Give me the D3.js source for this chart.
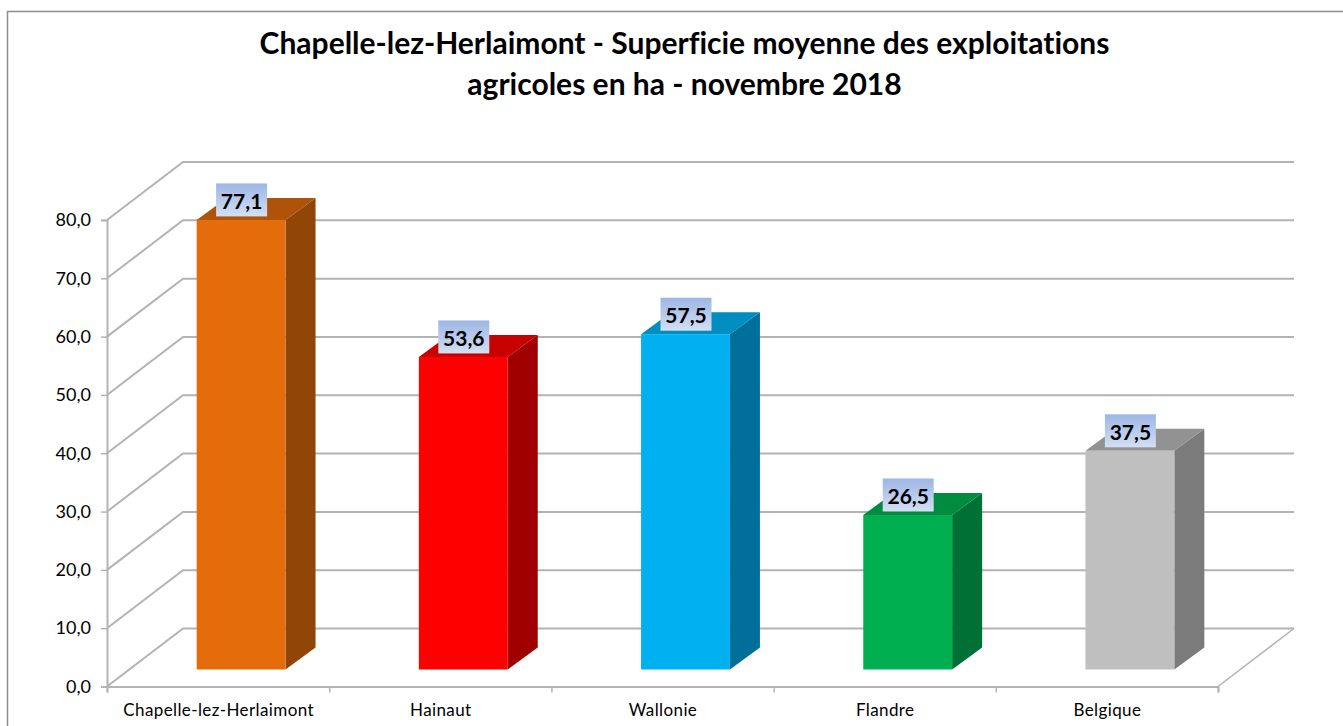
<!DOCTYPE html>
<html>
<head>
<meta charset="utf-8">
<script src="https://cdn.jsdelivr.net/npm/d3@7"></script>
<style>
html, body { margin: 0; padding: 0; background: #fff; overflow: hidden; }
text { font-family: Lato, "Open Sans", sans-serif; fill: #000; font-variant-ligatures: none; }
</style>
</head>
<body>
<div id="chart"></div>
<script>
// Data
const categories = ["Chapelle-lez-Herlaimont", "Hainaut", "Wallonie", "Flandre", "Belgique"];
const values = [77.1, 53.6, 57.5, 26.5, 37.5];
const yTicks = [0, 10, 20, 30, 40, 50, 60, 70, 80];
const titleLines = [
    "Chapelle-lez-Herlaimont - Superficie moyenne des exploitations",
    "agricoles en ha - novembre 2018"
];

const frontColors = ["#E46C0A", "#FF0000", "#00B0F0", "#00B050", "#BFBFBF"];
const topColors = ["#AF5308", "#C80000", "#008DC0", "#008C40", "#929292"];
const sideColors = ["#914507", "#A00000", "#00709A", "#007034", "#7B7B7B"];

const svgWidth = 1343, svgHeight = 726;
const gridColor = "#b3b3b3";

// Chart depth: how far the back wall sits from the front axis
const depth = { dx: 76, dy: -58 };
// Bars stand a bit inside the floor
const barInset = { dx: 23, dy: -17 };
const barDepth = { dx: 30, dy: -22 };

const svg = d3.select("#chart")
    .append("svg")
    .attr("width", svgWidth)
    .attr("height", svgHeight)
    .style("display", "block");

const defs = svg.append("defs");
const labelFill = defs.append("linearGradient")
    .attr("id", "labelFill")
    .attr("x1", 0).attr("y1", 0).attr("x2", 0).attr("y2", 1);
labelFill.append("stop").attr("offset", "0%").attr("stop-color", "#9db6e4");
labelFill.append("stop").attr("offset", "100%").attr("stop-color", "#d3dff3");

const x = d3.scaleBand()
    .domain(categories)
    .range([107, 1218])
    .paddingInner(0.6)
    .paddingOuter(0.3);

const y = d3.scaleLinear()
    .domain([0, 80])
    .range([686.5, 220]);

// Outer frame, only left and top are visible
svg.append("path")
    .attr("d", d3.line()([[7.5, svgHeight], [7.5, 11.5], [svgWidth, 11.5]]))
    .attr("fill", "none")
    .attr("stroke", "#8c8c8c")
    .attr("stroke-width", 1.5);

// Title
svg.append("g")
    .selectAll("text")
    .data(titleLines)
    .enter().append("text")
    .attr("x", 684.5)
    .attr("y", (d, i) => 54 + i * 41)
    .attr("text-anchor", "middle")
    .attr("font-size", 30)
    .attr("font-weight", 700)
    .text(d => d);

// Back wall and side wall gridlines
const grid = svg.append("g")
    .attr("fill", "none")
    .attr("stroke", gridColor)
    .attr("stroke-width", 2);

grid.selectAll("path")
    .data(yTicks)
    .enter().append("path")
    .attr("d", d => d3.line()([
        [x.range()[0], y(d)],
        [x.range()[0] + depth.dx, y(d) + depth.dy],
        [x.range()[1] + depth.dx, y(d) + depth.dy]
    ]));

// Floor edge on the right
grid.append("path")
    .attr("stroke-width", 1.5)
    .attr("d", d3.line()([
        [x.range()[1], y(0)],
        [x.range()[1] + depth.dx, y(0) + depth.dy]
    ]));

// Y axis
const yAxis = svg.append("g")
    .attr("transform", `translate(${x.range()[0]}, 0)`)
    .call(d3.axisLeft(y)
        .tickValues(yTicks)
        .tickSize(6)
        .tickPadding(10)
        .tickFormat(d => d3.format(".1f")(d).replace(".", ",")));

// X axis
const xAxisScale = d3.scaleLinear()
    .domain([0, categories.length])
    .range(x.range());

const xAxis = svg.append("g")
    .attr("transform", `translate(0, ${y(0)})`)
    .call(d3.axisBottom(xAxisScale)
        .tickValues(d3.range(categories.length + 1))
        .tickSize(6)
        .tickFormat(""));

[yAxis, xAxis].forEach(axis => {
    axis.select(".domain").attr("stroke", gridColor).attr("stroke-width", 2);
    axis.selectAll(".tick line").attr("stroke", gridColor).attr("stroke-width", 1.5);
});
yAxis.selectAll("text").attr("font-size", 18).attr("font-family", "Lato");

// Category labels
svg.append("g")
    .selectAll("text")
    .data(categories)
    .enter().append("text")
    .attr("x", d => x(d) + x.bandwidth() / 2 + 0.5)
    .attr("y", 716)
    .attr("text-anchor", "middle")
    .attr("font-size", 17)
    .attr("letter-spacing", 0.4)
    .text(d => d);

// Bars
const bars = svg.append("g")
    .selectAll("g")
    .data(values)
    .enter().append("g")
    .attr("transform", `translate(${barInset.dx}, ${barInset.dy})`);

const barLeft = (d, i) => x(categories[i]);
const barRight = (d, i) => x(categories[i]) + x.bandwidth();

// Right side face
bars.append("path")
    .attr("fill", (d, i) => sideColors[i])
    .attr("d", (d, i) => d3.line()([
        [barRight(d, i), y(d)],
        [barRight(d, i) + barDepth.dx, y(d) + barDepth.dy],
        [barRight(d, i) + barDepth.dx, y(0) + barDepth.dy],
        [barRight(d, i), y(0)]
    ]) + "Z");

// Top face
bars.append("path")
    .attr("fill", (d, i) => topColors[i])
    .attr("d", (d, i) => d3.line()([
        [barLeft(d, i), y(d)],
        [barLeft(d, i) + barDepth.dx, y(d) + barDepth.dy],
        [barRight(d, i) + barDepth.dx, y(d) + barDepth.dy],
        [barRight(d, i), y(d)]
    ]) + "Z");

// Front face
bars.append("rect")
    .attr("x", barLeft)
    .attr("y", d => y(d))
    .attr("width", x.bandwidth())
    .attr("height", d => y(0) - y(d))
    .attr("fill", (d, i) => frontColors[i]);

// Value labels
const labels = svg.append("g")
    .selectAll("g")
    .data(values)
    .enter().append("g")
    .attr("transform", (d, i) => `translate(${x(categories[i]) + barInset.dx + x.bandwidth() / 2 + 0.5}, ${y(d) + barInset.dy - 20})`);

labels.append("rect")
    .attr("x", -25.5)
    .attr("y", -16.5)
    .attr("width", 51)
    .attr("height", 33)
    .attr("fill", "url(#labelFill)");

labels.append("text")
    .attr("text-anchor", "middle")
    .attr("y", 1.5)
    .attr("dy", "0.35em")
    .attr("font-size", 21)
    .attr("font-weight", 700)
    .text(d => d3.format(".1f")(d).replace(".", ","));
</script>
</body>
</html>
